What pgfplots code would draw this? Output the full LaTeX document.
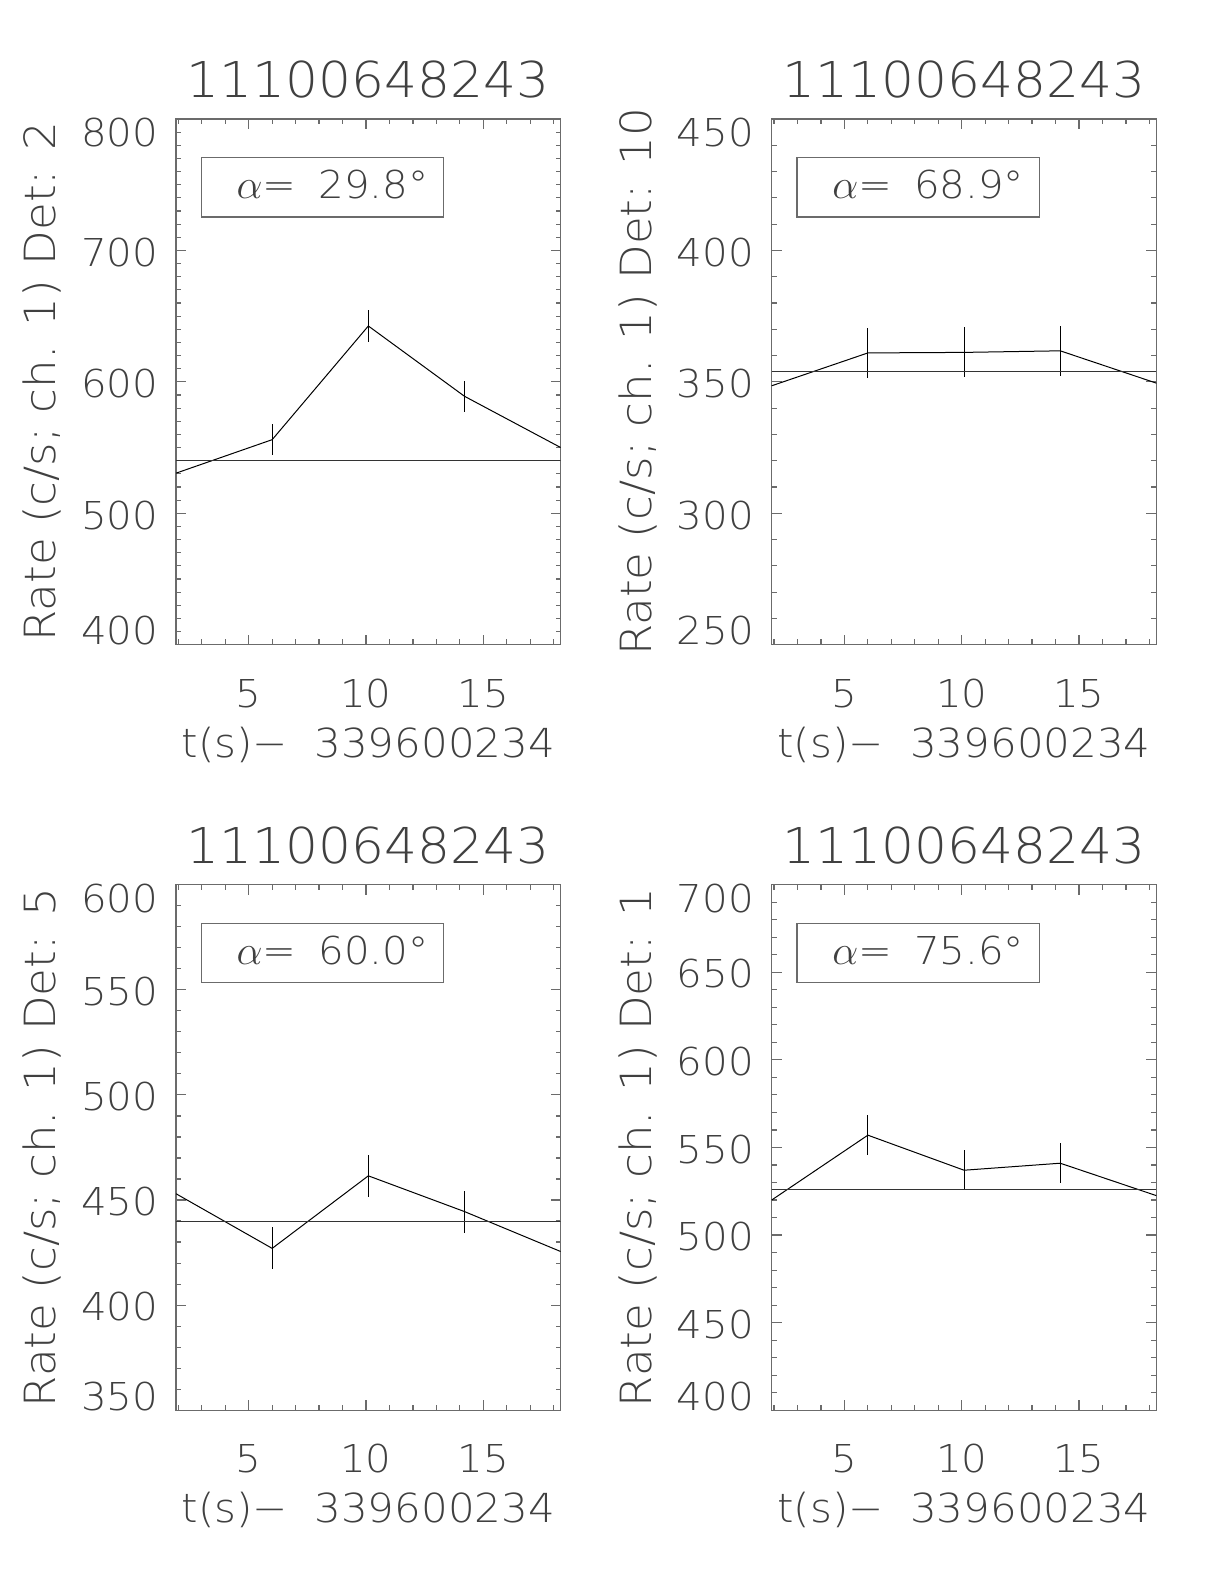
\documentclass[border=0pt]{standalone}
\usepackage{fontspec}
\IfFontExistsTF{DejaVuSans-ExtraLight.ttf}
  {\setmainfont{DejaVuSans-ExtraLight.ttf}[FakeStretch=1.05]}
  {\setmainfont{DejaVu Sans}[FakeStretch=1.05]}
\usepackage{pgfplots}
\usepackage{pgfplotstable}
\pgfplotsset{compat=1.18}

\newcommand{\tickfont}{\fontsize{19.2bp}{23bp}\selectfont}
\newcommand{\xlabfont}{\fontsize{20bp}{24bp}\selectfont}
\newcommand{\ylabfont}{\fontsize{21.5bp}{25bp}\selectfont}
\newcommand{\titlefont}{\fontsize{24.7bp}{29bp}\selectfont}
\newcommand{\annfont}{\fontsize{19.2bp}{23bp}\selectfont}
\definecolor{txt}{gray}{0.25}
\definecolor{frm}{gray}{0.42}
\newcommand{\dn}[1]{\raisebox{-6.1bp}[\height][\depth]{#1}}
\newcommand{\up}[1]{\raisebox{7.9bp}[\height][\depth]{#1}}

\pgfplotstableread{
x y e
1.9 530.5 0
6.0 556 12
10.1 642.5 12.5
14.2 589 12
18.3 550 0
}\dataA
\pgfplotstableread{
x y e
1.9 348.5 0
6.0 361 9.5
10.1 361.2 9.5
14.2 361.8 9.5
18.3 349.5 0
}\dataB
\pgfplotstableread{
x y e
1.9 453 0
6.0 427 10
10.1 461.5 10
14.2 444.5 10
18.3 425.5 0
}\dataC
\pgfplotstableread{
x y e
1.9 520 0
6.0 557 11.5
10.1 537 11.5
14.2 541 11.5
18.3 522.5 0
}\dataD

\pgfplotsset{
  panel/.style={
    scale only axis, width=192.35bp, height=262.85bp,
    xmin=1.9, xmax=18.3,
    xtick={5,10,15}, minor xtick={2,3,...,18},
    tick pos=both, ticklabel pos=left,
    axis line style={frm, line width=0.7bp},
    tick style={frm, line width=0.6bp},
    tick align=inside,
    major tick length=5bp, minor tick length=2.6bp,
    /pgf/number format/assume math mode=true,
    xticklabel style={anchor=base, yshift=-31.2bp, inner sep=0pt, font=\tickfont, text=txt},
    yticklabel style={anchor=east, xshift=-8.7bp, yshift=-0.9bp, inner sep=0pt, font=\tickfont, text=txt},
    every axis title/.style={at={(axis description cs:0.5,1)}, anchor=base, yshift=10.5bp, inner sep=0pt, font=\titlefont, text=txt},
    every axis x label/.style={at={(axis description cs:0.5,0)}, anchor=base, yshift=-56.2bp, inner sep=0pt, font=\xlabfont, text=txt},
    every axis y label/.style={at={(axis description cs:-0.3132,0.5)}, rotate=90, anchor=base, inner sep=0pt, font=\ylabfont, text=txt},
    title={11100648243},
    xlabel={t(s)−~~339600234},
    every axis plot/.append style={black, line width=0.5bp, mark=none},
  },
  errplot/.style={error bars/.cd, y dir=both, y explicit, error mark=none,
    error bar style={black, line width=0.5bp}},
}

\newcommand{\annot}[1]{%
  \draw[frm, line width=0.6bp] (axis description cs:0.0658,0.926) rectangle (axis description cs:0.6959,0.8134);
  \node[anchor=base east, inner sep=0pt, font=\annfont, text=txt] at (axis description cs:0.6571,0.8482) {$\alpha$=\hspace{11bp}#1°};
}

\begin{document}
\begin{tikzpicture}
\path (0,0) rectangle (612bp,792bp);

% Panel 1
\begin{axis}[panel, at={(88bp,469.65bp)}, anchor=south west,
  ymin=400, ymax=800, ytick={400,500,...,800}, minor ytick={400,410,...,800},
  yticklabels={\up{400},500,600,700,\dn{800}},
  ylabel={Rate (c/s; ch. 1) Det: 2}]
  \addplot[errplot] table[x=x, y=y, y error=e] {\dataA};
  \addplot[black!80] coordinates {(1.9,540) (18.3,540)};
  \annot{29.8}
\end{axis}

% Panel 2
\begin{axis}[panel, at={(385.85bp,469.65bp)}, anchor=south west,
  ymin=250, ymax=450, ytick={250,300,...,450}, minor ytick={250,260,...,450},
  yticklabels={\up{250},300,350,400,\dn{450}},
  ylabel={Rate (c/s; ch. 1) Det: 10}]
  \addplot[errplot] table[x=x, y=y, y error=e] {\dataB};
  \addplot[black!80] coordinates {(1.9,354) (18.3,354)};
  \annot{68.9}
\end{axis}

% Panel 3
\begin{axis}[panel, at={(88bp,86.85bp)}, anchor=south west,
  ymin=350, ymax=600, ytick={350,400,...,600}, minor ytick={350,360,...,600},
  yticklabels={\up{350},400,450,500,550,\dn{600}},
  ylabel={Rate (c/s; ch. 1) Det: 5}]
  \addplot[errplot] table[x=x, y=y, y error=e] {\dataC};
  \addplot[black!80] coordinates {(1.9,440) (18.3,440)};
  \annot{60.0}
\end{axis}

% Panel 4
\begin{axis}[panel, at={(385.85bp,86.85bp)}, anchor=south west,
  ymin=400, ymax=700, ytick={400,450,...,700}, minor ytick={400,410,...,700},
  yticklabels={\up{400},450,500,550,600,650,\dn{700}},
  ylabel={Rate (c/s; ch. 1) Det: 1}]
  \addplot[errplot] table[x=x, y=y, y error=e] {\dataD};
  \addplot[black!80] coordinates {(1.9,526) (18.3,526)};
  \annot{75.6}
\end{axis}
\end{tikzpicture}
\end{document}
